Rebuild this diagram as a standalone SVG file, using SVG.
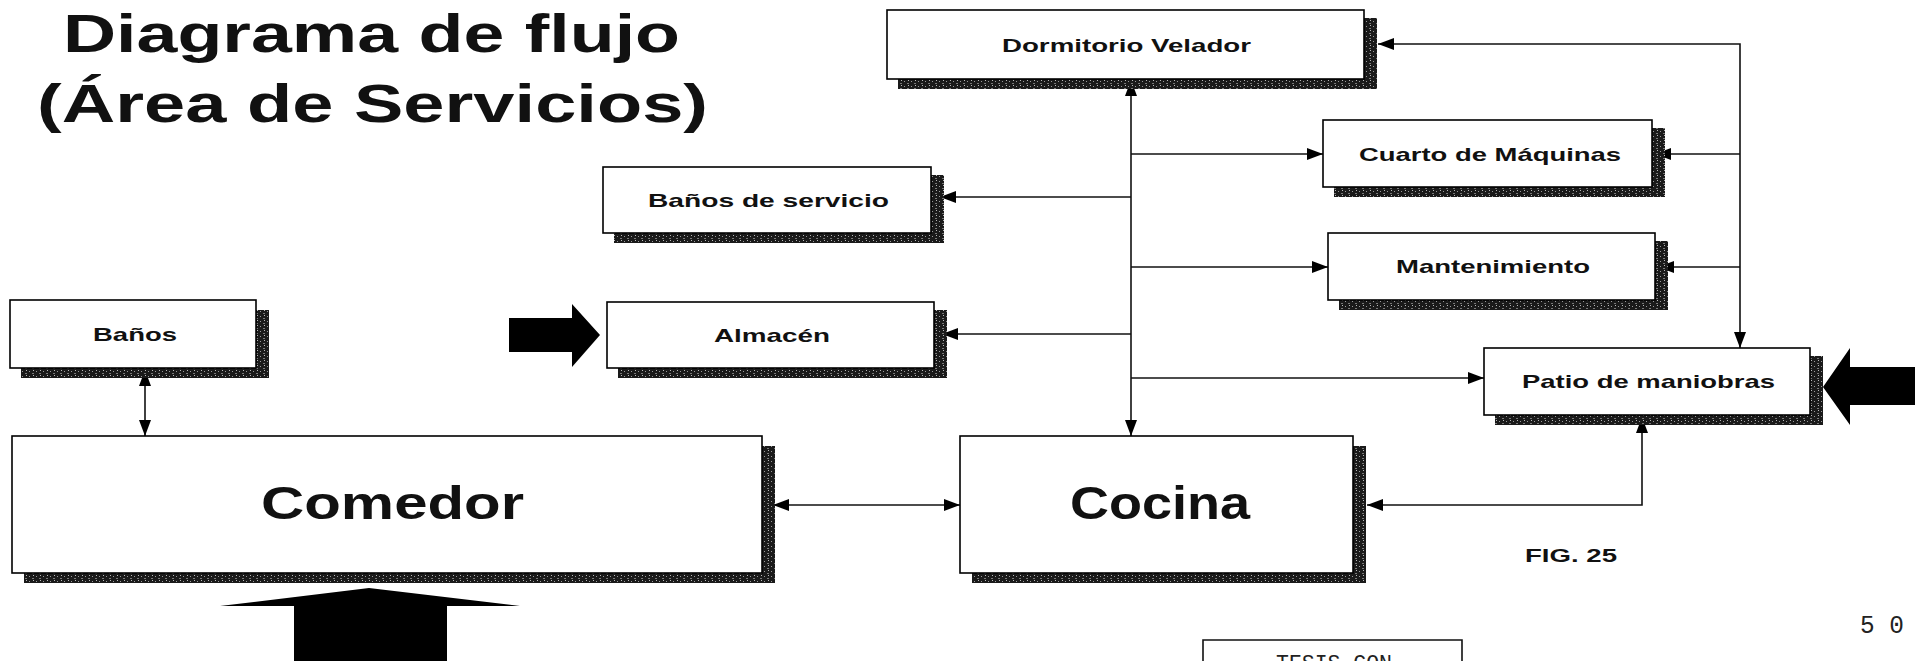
<svg xmlns="http://www.w3.org/2000/svg" width="1915" height="661" viewBox="0 0 1915 661">
<style>
.box{fill:#fff;stroke:#000;stroke-width:1.6}
.sh{fill:url(#tex)}
.lbl{font-family:"Liberation Sans",Arial,sans-serif;font-weight:bold;font-size:18.5px;fill:#111}
.big{font-family:"Liberation Sans",Arial,sans-serif;font-weight:bold;font-size:46px;fill:#111}
.title{font-family:"Liberation Sans",Arial,sans-serif;font-weight:bold;font-size:54px;fill:#111}
.ln{fill:none;stroke:#111;stroke-width:1.6}
.blk{fill:#000}
.mono{font-family:"Liberation Mono","Courier New",monospace;fill:#222}
</style>
<defs>
<pattern id="tex" width="7" height="5" patternUnits="userSpaceOnUse">
<rect width="7" height="5" fill="#1a1a1a"/>
<rect x="1" y="1" width="1" height="1" fill="#999"/>
<rect x="4" y="3" width="2" height="1" fill="#777"/>
<rect x="5" y="0" width="1" height="1" fill="#bbb"/>
</pattern>
<marker id="ah" viewBox="0 0 16 12" refX="16" refY="6" markerWidth="16" markerHeight="12" markerUnits="userSpaceOnUse" orient="auto-start-reverse">
<path d="M0,0 L16,6 L0,12 z" fill="#000"/>
</marker>
</defs>
<rect width="1915" height="661" fill="#fff"/>

<g id="title">
<text class="title" x="63" y="52" textLength="617" lengthAdjust="spacingAndGlyphs">Diagrama de flujo</text>
<text class="title" x="37" y="122" textLength="671" lengthAdjust="spacingAndGlyphs">(Área de Servicios)</text>
</g>

<g id="connectors">
<line class="ln" x1="1131" y1="80" x2="1131" y2="436" marker-start="url(#ah)" marker-end="url(#ah)"/>
<line class="ln" x1="1131" y1="154" x2="1323" y2="154" marker-end="url(#ah)"/>
<line class="ln" x1="1131" y1="197" x2="940" y2="197" marker-end="url(#ah)"/>
<line class="ln" x1="1131" y1="267" x2="1328" y2="267" marker-end="url(#ah)"/>
<line class="ln" x1="1131" y1="334" x2="942" y2="334" marker-end="url(#ah)"/>
<line class="ln" x1="1131" y1="378" x2="1484" y2="378" marker-end="url(#ah)"/>
<polyline class="ln" points="1378,44 1740,44 1740,348" marker-start="url(#ah)" marker-end="url(#ah)"/>
<line class="ln" x1="1740" y1="154" x2="1655" y2="154" marker-end="url(#ah)"/>
<line class="ln" x1="1740" y1="267" x2="1658" y2="267" marker-end="url(#ah)"/>
<polyline class="ln" points="1642,417 1642,505 1367,505" marker-start="url(#ah)" marker-end="url(#ah)"/>
<line class="ln" x1="773" y1="505" x2="960" y2="505" marker-start="url(#ah)" marker-end="url(#ah)"/>
<line class="ln" x1="145" y1="370" x2="145" y2="436" marker-start="url(#ah)" marker-end="url(#ah)"/>
</g>

<g id="dormitorio">
<path class="sh" d="M1364,18 h13 v71 h-479 v-10 h466 z"/>
<rect class="box" x="887" y="10" width="477" height="69"/>
<text class="lbl" x="1002" y="52" textLength="249" lengthAdjust="spacingAndGlyphs">Dormitorio Velador</text>
</g>

<g id="cuarto">
<path class="sh" d="M1652,128 h13 v69 h-331 v-10 h318 z"/>
<rect class="box" x="1323" y="120" width="329" height="67"/>
<text class="lbl" x="1359" y="161" textLength="262" lengthAdjust="spacingAndGlyphs">Cuarto de Máquinas</text>
</g>

<g id="mantenimiento">
<path class="sh" d="M1655,241 h13 v69 h-329 v-10 h316 z"/>
<rect class="box" x="1328" y="233" width="327" height="67"/>
<text class="lbl" x="1396" y="273" textLength="194" lengthAdjust="spacingAndGlyphs">Mantenimiento</text>
</g>

<g id="banos-servicio">
<path class="sh" d="M931,175 h13 v68 h-330 v-10 h317 z"/>
<rect class="box" x="603" y="167" width="328" height="66"/>
<text class="lbl" x="648" y="207" textLength="241" lengthAdjust="spacingAndGlyphs">Baños de servicio</text>
</g>

<g id="almacen">
<path class="sh" d="M934,310 h13 v68 h-329 v-10 h316 z"/>
<rect class="box" x="607" y="302" width="327" height="66"/>
<text class="lbl" x="714" y="342" textLength="116" lengthAdjust="spacingAndGlyphs">Almacén</text>
</g>

<g id="banos">
<path class="sh" d="M256,310 h13 v68 h-248 v-10 h235 z"/>
<rect class="box" x="10" y="300" width="246" height="68"/>
<text class="lbl" x="93" y="341" textLength="84" lengthAdjust="spacingAndGlyphs">Baños</text>
</g>

<g id="patio">
<path class="sh" d="M1810,356 h13 v69 h-328 v-10 h315 z"/>
<rect class="box" x="1484" y="348" width="326" height="67"/>
<text class="lbl" x="1522" y="388" textLength="253" lengthAdjust="spacingAndGlyphs">Patio de maniobras</text>
</g>

<g id="comedor">
<path class="sh" d="M762,446 h13 v137 h-751 v-10 h738 z"/>
<rect class="box" x="12" y="436" width="750" height="137"/>
<text class="big" x="261" y="519" textLength="263" lengthAdjust="spacingAndGlyphs">Comedor</text>
</g>

<g id="cocina">
<path class="sh" d="M1353,446 h13 v137 h-394 v-10 h381 z"/>
<rect class="box" x="960" y="436" width="393" height="137"/>
<text class="big" x="1070" y="519" textLength="180" lengthAdjust="spacingAndGlyphs">Cocina</text>
</g>

<g id="big-arrows">
<polygon class="blk" points="509,318 572,318 572,304 600,335 572,367 572,352 509,352"/>
<polygon class="blk" points="1915,367 1850,367 1850,348 1823,387 1850,425 1850,405 1915,405"/>
<polygon class="blk" points="369,588 520,606 447,606 447,661 294,661 294,606 220,606"/>
</g>

<g id="labels">
<text class="lbl" x="1525" y="562" textLength="92" lengthAdjust="spacingAndGlyphs">FIG. 25</text>
<text class="mono" x="1860" y="633" font-size="26" textLength="44" lengthAdjust="spacingAndGlyphs" fill="#555">5 0</text>
</g>

<g id="tesis">
<polyline class="ln" points="1203,661 1203,640 1462,640 1462,661"/>
<text class="mono" x="1276" y="670" font-size="22" textLength="116" lengthAdjust="spacingAndGlyphs">TESIS CON</text>
</g>
</svg>
